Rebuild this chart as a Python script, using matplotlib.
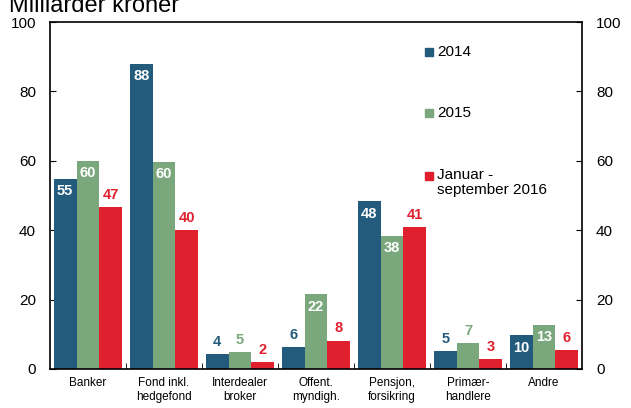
import matplotlib
matplotlib.use("Agg")
import matplotlib.pyplot as plt
import numpy as np
from matplotlib.patches import Rectangle

plt.rcParams.update({"font.family": ["Liberation Sans", "DejaVu Sans"]})

categories = ["Banker", "Fond inkl.\nhedgefond", "Interdealer\nbroker",
              "Offent.\nmyndigh.", "Pensjon,\nforsikring", "Primær-\nhandlere", "Andre"]
series_names = ["2014", "2015", "Januar -\nseptember 2016"]
v2014 = [54.8, 88.0, 4.3, 6.2, 48.3, 5.2, 9.7]
v2015 = [59.9, 59.6, 4.9, 21.5, 38.3, 7.4, 12.6]
v2016 = [46.7, 40.0, 2.0, 8.2, 40.8, 2.8, 5.5]

BLUE = "#225b7b"
GREEN = "#7aa87c"
RED = "#e0202e"
colors = [BLUE, GREEN, RED]

fig = plt.figure(figsize=(6.31, 4.08), dpi=100)
ax = fig.add_axes([50 / 631, 39 / 408, 532 / 631, 347 / 408])

x = np.arange(len(categories))
w = 0.3
for i, (vals, col) in enumerate(zip([v2014, v2015, v2016], colors)):
    xs = x + (i - 1) * w
    ax.bar(xs, vals, width=w, color=col, edgecolor="none", zorder=2)
    for xi, v in zip(xs, vals):
        lab = f"{v:.0f}"
        if col != RED and v >= 9:
            ax.text(xi, v - 1.5, lab, ha="center", va="top", color="white",
                    fontsize=10.5, fontweight="bold")
        else:
            ax.text(xi, v + 1.5, lab, ha="center", va="bottom", color=col,
                    fontsize=10.5, fontweight="bold")

ax.set_xlim(-0.5, len(categories) - 0.5)
ax.set_ylim(0, 100)
ax.set_yticks(range(0, 101, 20))
ax.tick_params(axis="y", direction="in", length=4, labelsize=11, pad=10,
               right=True, labelright=True)
ax.set_xticks(x)
ax.set_xticklabels(categories, fontsize=8.5)
ax.tick_params(axis="x", length=0, pad=6)
ax.set_xticks(np.arange(0.5, len(categories) - 0.5, 1), minor=True)
ax.tick_params(axis="x", which="minor", direction="in", length=4)
for s in ax.spines.values():
    s.set_linewidth(1.2)

# legend, drawn by hand to keep the wide spacing
ly = [0.913, 0.738, 0.556]
for name, col, yy in zip(series_names, colors, ly):
    ax.add_patch(Rectangle((0.705, yy - 0.012), 0.015, 0.024, transform=ax.transAxes,
                           color=col, clip_on=False))
    if "\n" in name:
        ax.text(0.727, yy + 0.024, name, transform=ax.transAxes, ha="left",
                va="top", fontsize=11, linespacing=1.15)
    else:
        ax.text(0.727, yy, name, transform=ax.transAxes, ha="left",
                va="center", fontsize=11)

fig.text(0.015, 1 - 12.5 / 408, "Milliarder kroner", fontsize=17, ha="left",
         va="baseline")

fig.savefig("out.png", dpi=100)
